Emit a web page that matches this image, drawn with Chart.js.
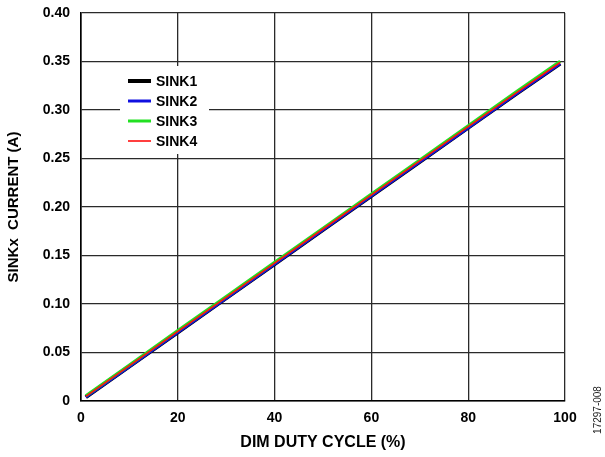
<!DOCTYPE html>
<html>
<head>
<meta charset="utf-8">
<script src="https://cdn.jsdelivr.net/npm/chart.js@4"></script>
<style>
  html, body { margin: 0; padding: 0; background: #fff; }
  #wrap { position: relative; width: 605px; height: 457px; }
</style>
</head>
<body>
<div id="wrap"><canvas id="chart" width="605" height="457"></canvas></div>
<script>
// duty cycle (%) and sink currents (A)
const duty = [1, 10, 20, 30, 40, 50, 60, 70, 80, 90, 99];
const sink1 = [0.0040, 0.0356, 0.0708, 0.1060, 0.1412, 0.1764, 0.2116, 0.2466, 0.2818, 0.3170, 0.3478];
const sink2 = [0.0040, 0.0356, 0.0708, 0.1060, 0.1412, 0.1764, 0.2116, 0.2466, 0.2818, 0.3170, 0.3478];
const sink3 = [0.0054, 0.0372, 0.0726, 0.1078, 0.1430, 0.1782, 0.2134, 0.2486, 0.2838, 0.3190, 0.3502];
const sink4 = [0.0047, 0.0364, 0.0717, 0.1069, 0.1421, 0.1773, 0.2125, 0.2476, 0.2828, 0.3180, 0.3490];

const xTicks = [0, 20, 40, 60, 80, 100];
const yTicks = [0, 0.05, 0.10, 0.15, 0.20, 0.25, 0.30, 0.35, 0.40];

const FONT = 'Liberation Sans, Arial, Helvetica, sans-serif';

const series = [
  { label: 'SINK1', data: sink1, color: '#000000', width: 4 },
  { label: 'SINK2', data: sink2, color: '#1010e0', width: 3 },
  { label: 'SINK3', data: sink3, color: '#22e022', width: 3 },
  { label: 'SINK4', data: sink4, color: '#ff1010', width: 1.6 }
];

// legend box sitting inside the plot, white background hides the grid
const legendBox = {
  id: 'legendBox',
  afterDatasetsDraw(chart) {
    const ctx = chart.ctx;
    ctx.save();
    ctx.fillStyle = '#fff';
    ctx.fillRect(120, 66, 89, 88);
    ctx.font = 'bold 14px ' + FONT;
    ctx.textBaseline = 'middle';
    ctx.textAlign = 'left';
    const rows = [81, 101, 121, 141];
    series.forEach((s, i) => {
      ctx.strokeStyle = s.color;
      ctx.lineWidth = s.width;
      ctx.beginPath();
      ctx.moveTo(128, rows[i]);
      ctx.lineTo(151, rows[i]);
      ctx.stroke();
      ctx.fillStyle = '#000';
      ctx.fillText(s.label, 156, rows[i] + 1);
    });
    // figure number on the right edge
    ctx.translate(598, 410);
    ctx.rotate(-Math.PI / 2);
    ctx.font = '10px ' + FONT;
    ctx.textAlign = 'center';
    ctx.fillStyle = '#222';
    ctx.fillText('17297-008', 0, 0);
    ctx.restore();
  }
};

new Chart(document.getElementById('chart'), {
  type: 'line',
  data: {
    datasets: series.map((s, i) => ({
      label: s.label,
      data: duty.map((d, j) => ({ x: d, y: s.data[j] })),
      borderColor: s.color,
      borderWidth: s.width,
      pointRadius: 0,
      tension: 0,
      fill: false,
      order: series.length - i
    }))
  },
  options: {
    responsive: false,
    animation: false,
    layout: { padding: { top: 13, right: 40, left: 0, bottom: 0 } },
    plugins: { legend: { display: false }, tooltip: { enabled: false } },
    scales: {
      x: {
        type: 'linear',
        min: 0,
        max: 100,
        afterBuildTicks: s => { s.ticks = xTicks.map(v => ({ value: v })); },
        afterFit: s => { s.height = 56; s.paddingLeft = 0; s.paddingRight = 0; },
        grid: { color: '#2a2a2a', lineWidth: 1.3, drawTicks: false },
        border: { color: '#000', width: 1.6 },
        ticks: {
          color: '#000',
          font: { family: FONT, size: 14, weight: 'bold' },
          padding: 9,
          maxRotation: 0
        },
        title: {
          display: true,
          text: 'DIM DUTY CYCLE (%)',
          color: '#000',
          font: { family: FONT, size: 16, weight: 'bold' },
          padding: { bottom: 5 }
        }
      },
      y: {
        type: 'linear',
        min: 0,
        max: 0.40,
        afterBuildTicks: s => { s.ticks = yTicks.map(v => ({ value: v })); },
        afterFit: s => { s.width = 81; s.paddingTop = 0; s.paddingBottom = 0; },
        grid: { color: '#2a2a2a', lineWidth: 1.3, drawTicks: false },
        border: { color: '#000', width: 1.6 },
        ticks: {
          color: '#000',
          font: { family: FONT, size: 14, weight: 'bold' },
          padding: 11,
          callback: v => v === 0 ? '0' : v.toFixed(2)
        },
        title: {
          display: true,
          text: 'SINKx  CURRENT (A)',
          color: '#000',
          font: { family: FONT, size: 15, weight: 'bold' },
          padding: { top: 5 }
        }
      }
    }
  },
  plugins: [legendBox]
});
</script>
</body>
</html>
